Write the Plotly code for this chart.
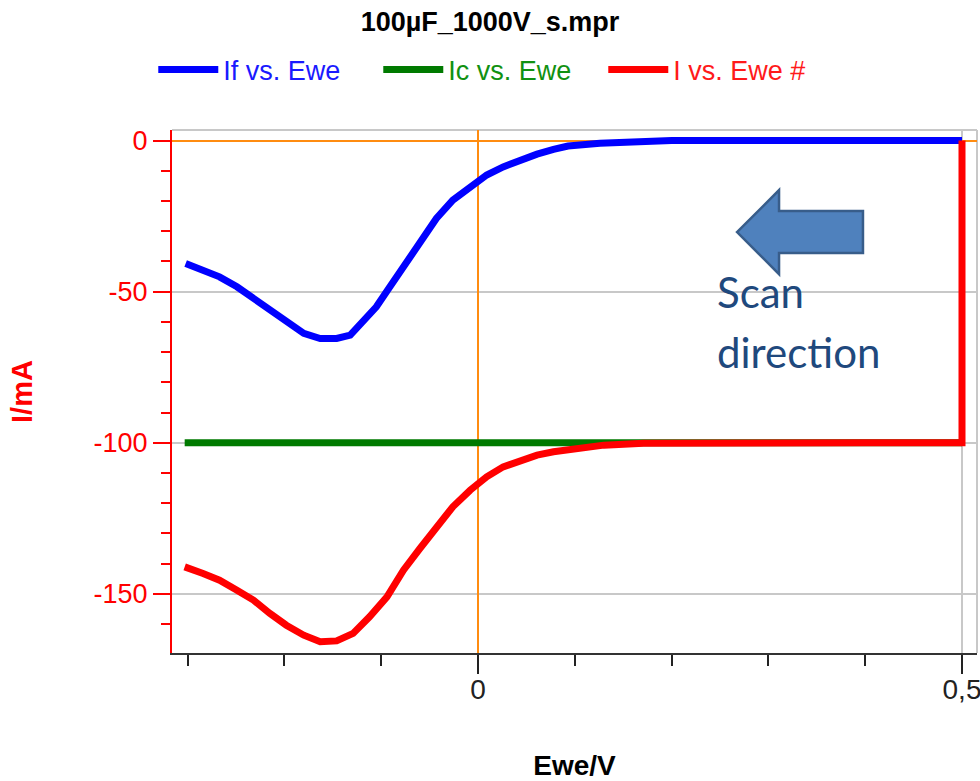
import plotly.graph_objects as go

# Faradaic current If vs. Ewe (mA)
ewe_f = [-0.302, -0.284, -0.267, -0.249, -0.232, -0.215, -0.198, -0.180, -0.163,
         -0.146, -0.132, -0.119, -0.105, -0.091, -0.077, -0.060, -0.043, -0.026,
         -0.008, 0.009, 0.026, 0.043, 0.061, 0.078, 0.093, 0.126, 0.167, 0.20,
         0.30, 0.40, 0.50]
i_f = [-40.7, -42.9, -45.1, -48.4, -52.2, -56.1, -60.0, -63.8, -65.5,
       -65.5, -64.4, -60.0, -55.0, -48.4, -41.8, -32.9, -25.8, -19.7,
       -15.1, -11.4, -8.7, -6.5, -4.5, -2.9, -1.8, -0.9, -0.2, 0.0,
       0.0, 0.0, 0.0]

# Capacitive current Ic vs. Ewe (mA)
ewe_c = [-0.303, 0.50]
i_c = [-100.0, -100.0]

# Total current I vs. Ewe (mA), recorded from 0.5 V downwards
ewe_i = [0.50, 0.50, 0.40, 0.30, 0.20, 0.171, 0.130, 0.095, 0.078, 0.061, 0.043,
         0.026, 0.009, -0.008, -0.026, -0.043, -0.060, -0.077, -0.094, -0.112,
         -0.129, -0.146, -0.163, -0.180, -0.198, -0.215, -0.232, -0.249, -0.267,
         -0.284, -0.303]
i_tot = [0.0, -100.0, -100.0, -100.0, -100.0, -100.2, -100.8, -101.9, -103.0, -104.1,
         -105.8, -108.0, -111.3, -115.7, -121.2, -127.8, -135.0, -142.2, -151.0,
         -157.6, -163.1, -165.6, -165.9, -163.7, -160.4, -156.5, -152.1, -148.8,
         -145.5, -143.3, -141.1]

x_tickvals = [0, 0.5]
x_ticktext = ["0", "0,5"]
y_tickvals = [0, -50, -100, -150]
y_ticktext = ["0", "-50", "-100", "-150"]

BLUE = "#0000FF"
GREEN = "#007A00"
RED = "#FF0000"
FONT = "Liberation Sans, Arial, sans-serif"

fig = go.Figure()
fig.add_trace(go.Scatter(
    x=ewe_f, y=i_f, mode="lines",
    name="<span style='color:#1a1aff'>If vs. Ewe</span>",
    line=dict(color=BLUE, width=7)))
fig.add_trace(go.Scatter(
    x=ewe_c, y=i_c, mode="lines",
    name="<span style='color:#119111'>Ic vs. Ewe</span>",
    line=dict(color=GREEN, width=7)))
fig.add_trace(go.Scatter(
    x=ewe_i, y=i_tot, mode="lines",
    name="<span style='color:#ff1a1a'>I vs. Ewe #</span>",
    line=dict(color=RED, width=7)))

# scan-direction arrow (data coordinates)
arrow = [(0.2676, -30.3), (0.311, -16.4), (0.311, -23.3), (0.3977, -23.3),
         (0.3977, -37.2), (0.311, -37.2), (0.311, -44.2)]
path = "M " + " L ".join(f"{x},{y}" for x, y in arrow) + " Z"

fig.update_layout(
    width=980, height=781,
    margin=dict(l=172, r=3, t=130, b=128),
    paper_bgcolor="white", plot_bgcolor="white",
    font=dict(family=FONT),
    title=dict(text="100µF_1000V_s.mpr", x=0.5, xanchor="center",
               y=0.973, yanchor="middle",
               font=dict(family=FONT, size=27, color="black", weight="bold")),
    legend=dict(orientation="h", x=0.396, xanchor="center", y=1.115, yanchor="middle",
                font=dict(family=FONT, size=27), entrywidth=150, entrywidthmode="pixels",
                itemwidth=60, bgcolor="rgba(0,0,0,0)", tracegroupgap=0),
    xaxis=dict(
        range=[-0.3161, 0.5155],
        tickmode="array", tickvals=x_tickvals, ticktext=x_ticktext,
        ticks="outside", ticklen=19, tickwidth=2, tickcolor="#222222",
        tickfont=dict(family=FONT, size=28, color="#222222"),
        ticklabelstandoff=-9, ticklabeloverflow="allow",
        showline=True, linecolor="#333333", linewidth=2,
        showgrid=True, gridcolor="#C8C8C8", gridwidth=2,
        zeroline=True, zerolinecolor="#FF8C10", zerolinewidth=2,
        minor=dict(ticks="outside", tickmode="linear", tick0=0, dtick=0.1,
                   ticklen=11, tickwidth=2, tickcolor="#222222", showgrid=False),
        title=dict(text="Ewe/V", standoff=58,
                   font=dict(family=FONT, size=28, color="black", weight="bold")),
        automargin=False,
    ),
    yaxis=dict(
        range=[-169.6, 3.5],
        tickmode="array", tickvals=y_tickvals, ticktext=y_ticktext,
        ticks="outside", ticklen=17, tickwidth=2, tickcolor=RED,
        tickfont=dict(family=FONT, size=27, color=RED),
        showline=True, linecolor=RED, linewidth=2,
        showgrid=True, gridcolor="#C8C8C8", gridwidth=2,
        zeroline=True, zerolinecolor="#FF8C10", zerolinewidth=2,
        minor=dict(ticks="outside", tickmode="linear", tick0=0, dtick=10,
                   ticklen=9, tickwidth=2, tickcolor=RED, showgrid=False),
        title=dict(text="I/mA", standoff=52,
                   font=dict(family=FONT, size=29, color=RED, weight="bold")),
        automargin=False,
    ),
    shapes=[
        dict(type="line", xref="paper", yref="paper", x0=0, x1=1, y0=1, y1=1,
             line=dict(color="#C8C8C8", width=2), layer="below"),
        dict(type="line", xref="paper", yref="paper", x0=1, x1=1, y0=0, y1=1,
             line=dict(color="#C8C8C8", width=2), layer="below"),
        dict(type="path", xref="x", yref="y", path=path,
             fillcolor="#4F81BD", line=dict(color="#385D8A", width=2.5), layer="above"),
    ],
    annotations=[
        dict(text="Scan", x=0.2448, y=-50.2, xref="x", yref="y",
             xanchor="left", yanchor="middle", showarrow=False,
             font=dict(family="Lato, Carlito, sans-serif", size=42, color="#1F497D")),
        dict(text="direction", x=0.2448, y=-70.0, xref="x", yref="y",
             xanchor="left", yanchor="middle", showarrow=False,
             font=dict(family="Lato, Carlito, sans-serif", size=42, color="#1F497D")),
    ],
)

fig.write_html("out.html")
